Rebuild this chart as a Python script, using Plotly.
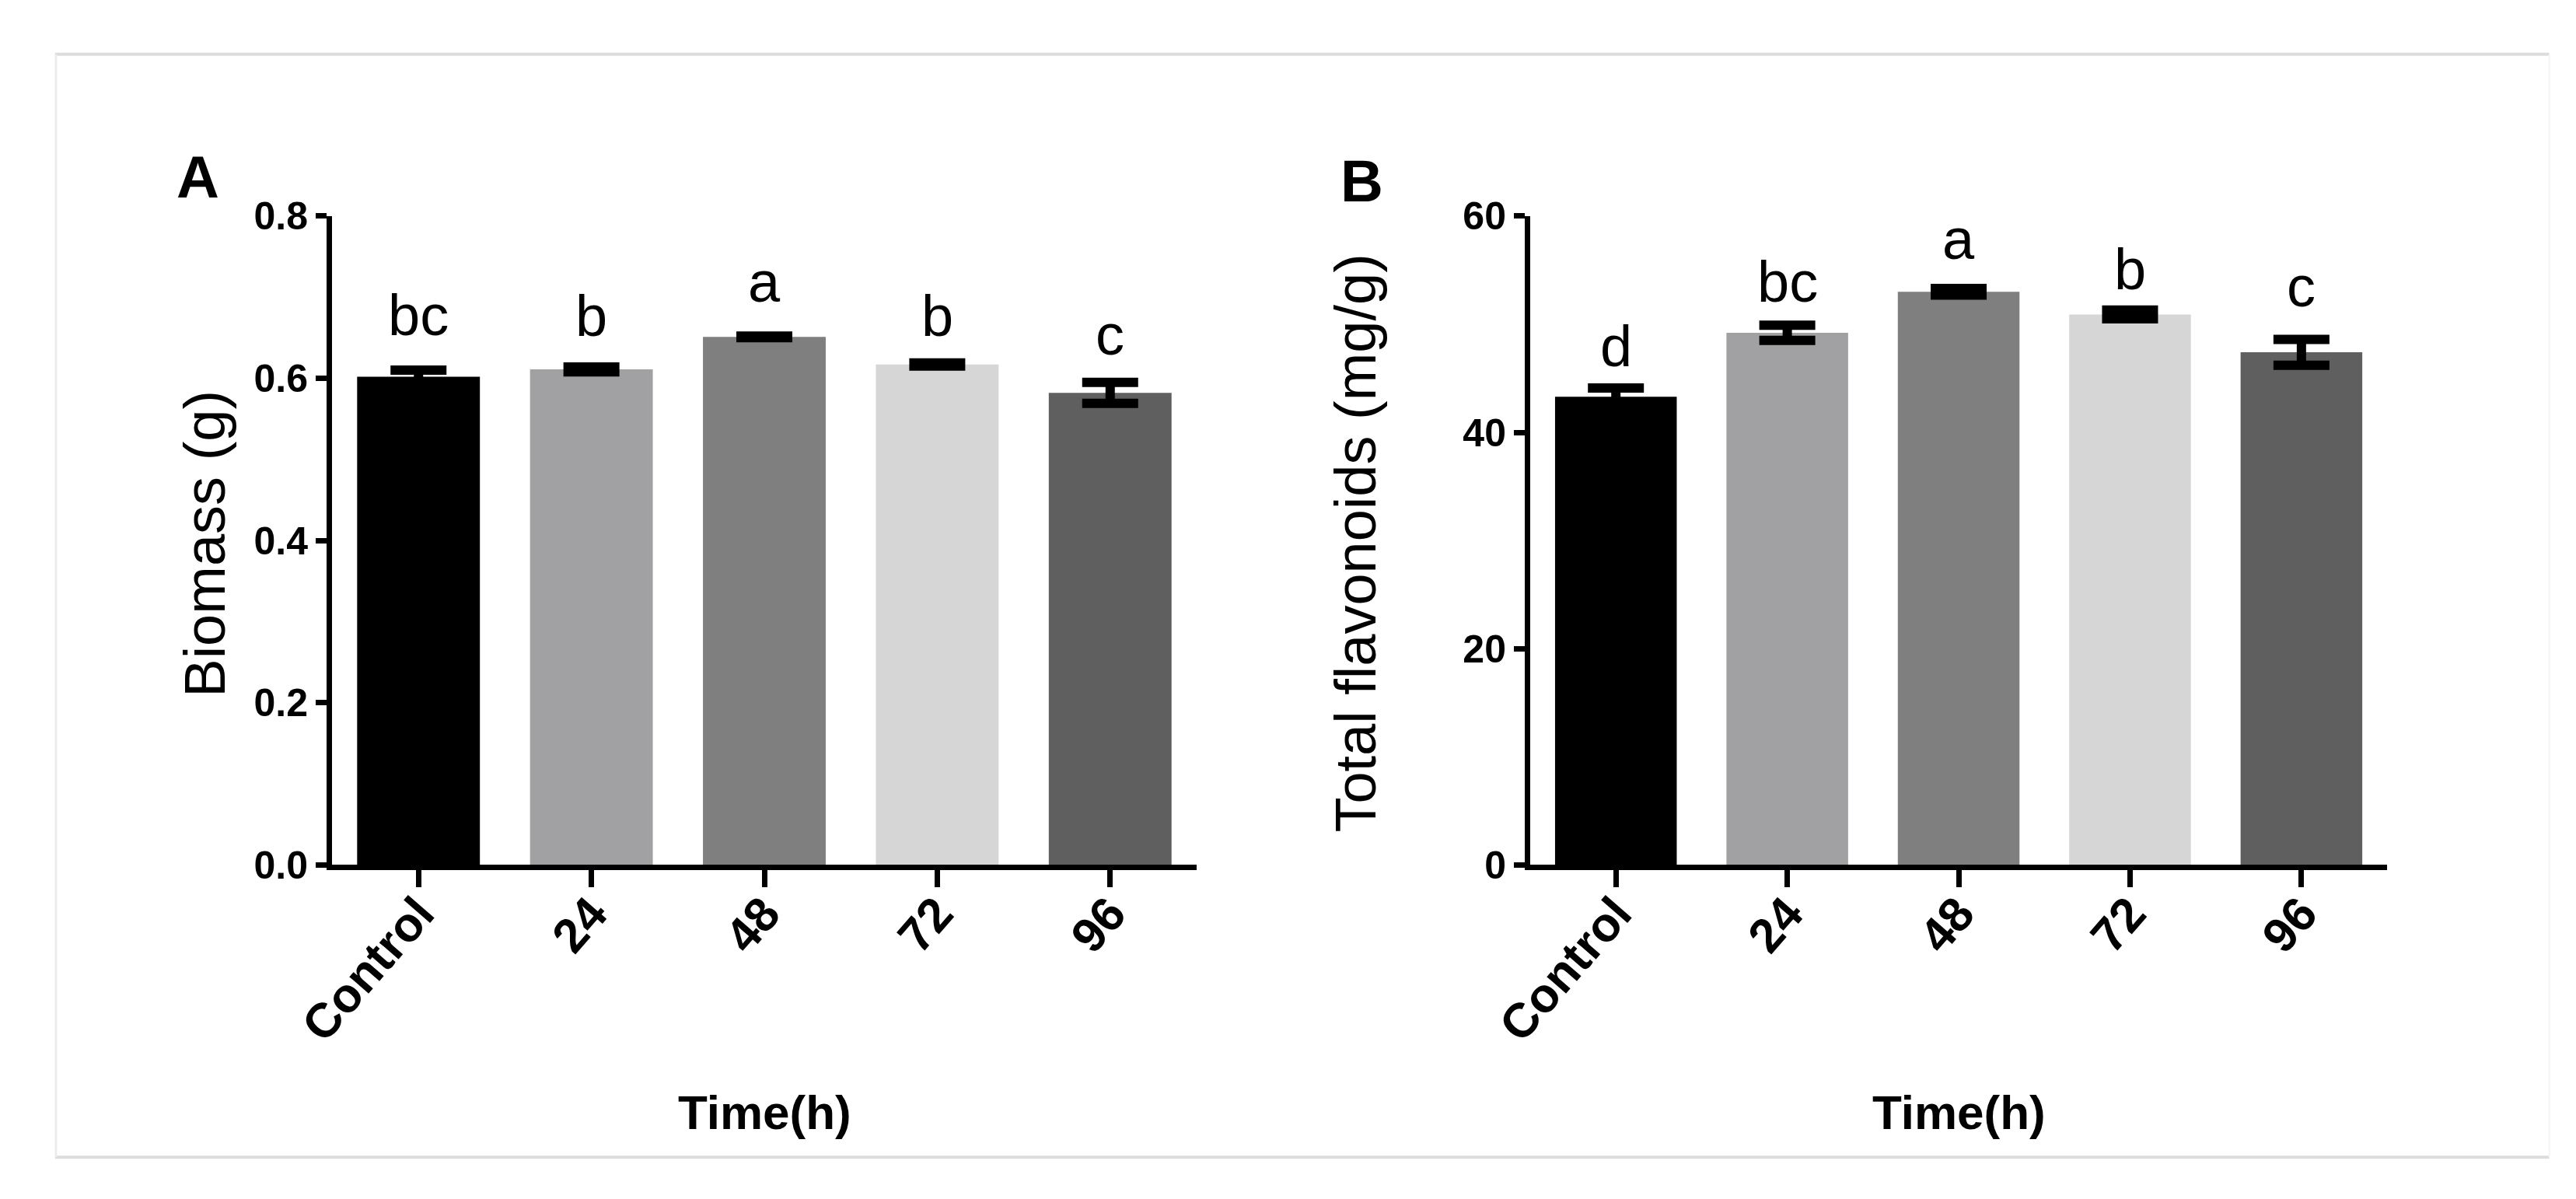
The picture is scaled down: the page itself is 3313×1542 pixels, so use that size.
import plotly.graph_objects as go

# ---- data ----
categories = ["Control", "24", "48", "72", "96"]
biomass = [0.602, 0.611, 0.651, 0.617, 0.582]
biomass_err = [0.008, 0.003, 0.001, 0.002, 0.013]
biomass_letters = ["bc", "b", "a", "b", "c"]
flavonoids = [43.3, 49.2, 53.0, 50.9, 47.4]
flavonoids_err = [0.8, 0.7, 0.3, 0.4, 1.2]
flavonoids_letters = ["d", "bc", "a", "b", "c"]
bar_colors = ["#000000", "#a1a1a3", "#7f7f7f", "#d6d6d6", "#5f5f5f"]
biomass_ticks = [0.0, 0.2, 0.4, 0.6, 0.8]
biomass_ticktext = ["0.0", "0.2", "0.4", "0.6", "0.8"]
flav_ticks = [0, 20, 40, 60]
flav_ticktext = ["0", "20", "40", "60"]

# style: vertical pixel gap of each significance letter above its error bar
letter_shift_a = [27, 22, 26, 17, 18]
letter_shift_b = [10, 12, 20, 9, 24]

W, H = 3313, 1542
FONT = "Liberation Sans, Arial, sans-serif"

def px_x(p):
    return p / W

def px_y(p):
    return 1 - p / H

fig = go.Figure()

err_style = dict(type="data", symmetric=True, color="#000000", thickness=12, width=36)

fig.add_trace(go.Bar(
    x=categories, y=biomass, xaxis="x", yaxis="y",
    marker=dict(color=bar_colors, line=dict(width=0)), width=0.71,
    error_y=dict(array=biomass_err, **err_style), showlegend=False,
))
fig.add_trace(go.Bar(
    x=categories, y=flavonoids, xaxis="x2", yaxis="y2",
    marker=dict(color=bar_colors, line=dict(width=0)), width=0.71,
    error_y=dict(array=flavonoids_err, **err_style), showlegend=False,
))

axis_common = dict(
    showline=True, linecolor="#000000", linewidth=7, showgrid=False, zeroline=False,
    ticks="outside", tickcolor="#000000", tickwidth=7,
)
xtickfont = dict(family=FONT, size=62, color="#000000", weight="bold")
ytickfont = dict(family=FONT, size=50, color="#000000", weight="bold")
ydom = [px_y(1118), px_y(252)]

fig.update_layout(
    width=W, height=H,
    margin=dict(l=0, r=0, t=0, b=0),
    paper_bgcolor="#ffffff", plot_bgcolor="#ffffff",
    xaxis=dict(domain=[px_x(372), px_x(1502)], anchor="y", type="category",
               range=[-0.5, 4.5], ticklen=22, tickangle=-49, ticklabelstandoff=-28,
               tickfont=xtickfont, **axis_common),
    yaxis=dict(domain=ydom, anchor="x", range=[0, 0.8], tickvals=biomass_ticks,
               ticktext=biomass_ticktext, ticklen=14,
               tickfont=ytickfont, **axis_common),
    xaxis2=dict(domain=[px_x(1938), px_x(3058)], anchor="y2", type="category",
                range=[-0.5, 4.5], ticklen=22, tickangle=-49, ticklabelstandoff=-28,
                tickfont=xtickfont, **axis_common),
    yaxis2=dict(domain=ydom, anchor="x2", range=[0, 60], tickvals=flav_ticks,
                ticktext=flav_ticktext, ticklen=14,
                tickfont=ytickfont, **axis_common),
)

annotations = []
# significance letters (x given as category index)
for i, (v, e, lab) in enumerate(zip(biomass, biomass_err, biomass_letters)):
    annotations.append(dict(x=i, y=v + e, xref="x", yref="y", text=lab, showarrow=False,
                            xanchor="center", yanchor="bottom", yshift=letter_shift_a[i],
                            font=dict(family=FONT, size=74, color="#000000")))
for i, (v, e, lab) in enumerate(zip(flavonoids, flavonoids_err, flavonoids_letters)):
    annotations.append(dict(x=i, y=v + e, xref="x2", yref="y2", text=lab, showarrow=False,
                            xanchor="center", yanchor="bottom", yshift=letter_shift_b[i],
                            font=dict(family=FONT, size=74, color="#000000")))

# axis titles and panel letters
annotations += [
    dict(x=px_x(206), y=px_y(689), xref="paper", yref="paper", text="Biomass (g)",
         textangle=-90, showarrow=False, xanchor="center", yanchor="middle",
         font=dict(family=FONT, size=74, color="#000000")),
    dict(x=px_x(1710), y=px_y(689), xref="paper", yref="paper", text="Total flavonoids (mg/g)",
         textangle=-90, showarrow=False, xanchor="center", yanchor="middle",
         font=dict(family=FONT, size=74, color="#000000")),
    dict(x=px_x(937), y=px_y(1448), xref="paper", yref="paper", text="Time(h)",
         showarrow=False, xanchor="center", yanchor="middle",
         font=dict(family=FONT, size=62, color="#000000", weight="bold")),
    dict(x=px_x(2498), y=px_y(1448), xref="paper", yref="paper", text="Time(h)",
         showarrow=False, xanchor="center", yanchor="middle",
         font=dict(family=FONT, size=62, color="#000000", weight="bold")),
    dict(x=px_x(197), y=px_y(200), xref="paper", yref="paper", text="A",
         showarrow=False, xanchor="center", yanchor="middle",
         font=dict(family=FONT, size=76, color="#000000", weight="bold")),
    dict(x=px_x(1718), y=px_y(205), xref="paper", yref="paper", text="B",
         showarrow=False, xanchor="center", yanchor="middle",
         font=dict(family=FONT, size=76, color="#000000", weight="bold")),
]
fig.update_layout(annotations=annotations)

# light frame around the figure
frame = [
    dict(x0=px_x(10), x1=px_x(3270), y0=px_y(36), y1=px_y(36), color="#dcdcdc", w=4),
    dict(x0=px_x(10), x1=px_x(3270), y0=px_y(1508), y1=px_y(1508), color="#dcdcdc", w=4),
    dict(x0=px_x(11), x1=px_x(11), y0=px_y(36), y1=px_y(1508), color="#ececec", w=3),
    dict(x0=px_x(3270), x1=px_x(3270), y0=px_y(36), y1=px_y(1508), color="#f4f4f4", w=2),
]
fig.update_layout(shapes=[
    dict(type="line", xref="paper", yref="paper", x0=f["x0"], x1=f["x1"], y0=f["y0"], y1=f["y1"],
         line=dict(color=f["color"], width=f["w"]), layer="below")
    for f in frame
])

fig.write_html("out.html")
